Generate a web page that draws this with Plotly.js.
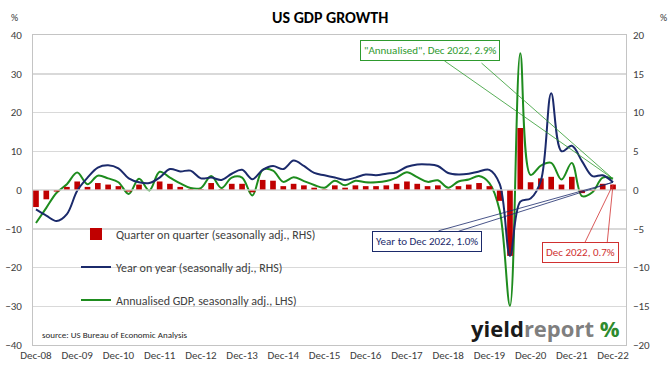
<!DOCTYPE html>
<html>
<head>
<meta charset="utf-8">
<script src="https://cdn.plot.ly/plotly-3.0.1.min.js"></script>
<style>html,body{margin:0;padding:0;background:#fff;}#chart{width:671px;height:368px;}</style>
</head>
<body>
<div id="chart"></div>
<script>
// Quarter labels (quarter ending)
const quarters = [
 'Dec-08','Mar-09','Jun-09','Sep-09','Dec-09','Mar-10','Jun-10','Sep-10','Dec-10',
 'Mar-11','Jun-11','Sep-11','Dec-11','Mar-12','Jun-12','Sep-12','Dec-12',
 'Mar-13','Jun-13','Sep-13','Dec-13','Mar-14','Jun-14','Sep-14','Dec-14',
 'Mar-15','Jun-15','Sep-15','Dec-15','Mar-16','Jun-16','Sep-16','Dec-16',
 'Mar-17','Jun-17','Sep-17','Dec-17','Mar-18','Jun-18','Sep-18','Dec-18',
 'Mar-19','Jun-19','Sep-19','Dec-19','Mar-20','Jun-20','Sep-20','Dec-20',
 'Mar-21','Jun-21','Sep-21','Dec-21','Mar-22','Jun-22','Sep-22','Dec-22'];

const tickLabels = ['Dec-08','Dec-09','Dec-10','Dec-11','Dec-12','Dec-13','Dec-14',
 'Dec-15','Dec-16','Dec-17','Dec-18','Dec-19','Dec-20','Dec-21','Dec-22'];

// Quarter on quarter, seasonally adjusted (RHS, %)
const qoq = [
 -2.2,-1.2,-0.2,0.4,1.1,0.4,0.9,0.7,0.5,
 -0.2,0.7,0.0,1.1,0.8,0.4,0.1,0.1,
 0.9,0.1,0.8,0.8,-0.3,1.3,1.2,0.5,
 0.8,0.6,0.3,0.1,0.6,0.3,0.6,0.5,
 0.5,0.6,0.8,1.1,0.8,0.5,0.6,0.1,
 0.5,0.7,0.9,0.5,-1.4,-8.5,8.0,1.0,
 1.5,1.7,0.7,1.7,-0.4,-0.1,0.8,0.7];

// Year on year, seasonally adjusted (RHS, %)
const yoy = [
 -2.5,-3.3,-4.0,-3.1,-0.1,1.6,2.9,3.2,2.8,
 1.5,1.0,0.9,1.6,2.7,2.4,2.5,1.5,
 1.6,1.3,2.1,2.6,1.4,2.6,3.1,2.7,
 3.8,3.1,2.2,1.9,1.6,1.3,1.6,2.0,
 1.9,2.1,2.3,3.0,3.3,3.3,3.1,2.2,
 2.0,2.1,2.4,2.6,0.8,-8.5,-1.5,-1.1,
 1.2,12.5,5.0,5.7,3.7,1.8,1.9,1.0];

// Annualised GDP growth, seasonally adjusted (LHS, %)
const annualised = [
 -8.5,-4.6,-0.7,1.5,4.5,1.5,3.7,3.0,2.0,
 -1.0,2.9,-0.1,4.7,3.2,1.7,0.5,0.5,
 3.6,0.5,3.2,3.2,-1.4,5.2,5.0,2.1,
 3.3,2.3,1.3,0.6,2.4,1.2,2.4,2.0,
 2.0,2.3,3.2,4.6,3.3,2.1,2.5,0.6,
 2.2,2.7,3.6,1.8,-5.3,-29.9,35.3,3.9,
 6.3,7.0,2.7,7.0,-1.6,-0.6,3.2,2.9];

const FONT = "Carlito, Calibri, Lato, 'Liberation Sans', sans-serif";
const RED = '#c00000', NAVY = '#1b2a6b', GREEN = '#1e8c1e';
const lastQ = quarters[quarters.length - 1];
const lastAnn = annualised[annualised.length - 1];
const lastYoy = yoy[yoy.length - 1];
const lastQoq = qoq[qoq.length - 1];

const traces = [
  {type:'bar', x:quarters, y:qoq, yaxis:'y2', name:'Quarter on quarter (seasonally adj., RHS)',
   marker:{color:RED}, width:0.55, legendgroup:'a'},
  {type:'scatter', mode:'lines', x:quarters, y:yoy, yaxis:'y2', name:'Year on year (seasonally adj., RHS)',
   line:{color:NAVY, width:2, shape:'spline', smoothing:1}, legendgroup:'b'},
  {type:'scatter', mode:'lines', x:quarters, y:annualised, yaxis:'y', name:'Annualised GDP, seasonally adj., LHS)',
   line:{color:GREEN, width:2, shape:'spline', smoothing:1}, legendgroup:'c'}
];

function callout(text, y, yref, color, ax, ay, ax2, ay2) {
  return [
    {x:lastQ, y:y, xref:'x', yref:yref, text:text, showarrow:true, arrowhead:0, arrowwidth:0.8,
     arrowcolor:color, ax:ax, ay:ay, font:{family:FONT, size:11, color:color},
     bgcolor:'#ffffff', bordercolor:color, borderwidth:1, borderpad:3},
    {x:lastQ, y:y, xref:'x', yref:yref, text:'', showarrow:true, arrowhead:0, arrowwidth:0.8,
     arrowcolor:color, ax:ax2, ay:ay2}
  ];
}

const annotations = [
  ...callout('"Annualised", Dec 2022, ' + lastAnn.toFixed(1) + '%', lastAnn, 'y', '#2e9a2e', -183, -128, -133, -117),
  ...callout('Year to Dec 2022, ' + lastYoy.toFixed(1) + '%', lastYoy, 'y2', NAVY, -186, 59, -176, 49),
  ...callout('Dec 2022, ' + lastQoq.toFixed(1) + '%', lastQoq, 'y2', '#d03030', -33, 68, -6, 60),
  {xref:'paper', yref:'paper', x:-0.032, y:1.058, xanchor:'center', yanchor:'middle', text:'%', showarrow:false,
   font:{family:FONT, size:10, color:'#404040'}},
  {xref:'paper', yref:'paper', x:1.064, y:1.058, xanchor:'center', yanchor:'middle', text:'%', showarrow:false,
   font:{family:FONT, size:10, color:'#404040'}},
  {xref:'paper', yref:'paper', x:0.0118, y:0.035, xanchor:'left', yanchor:'middle',
   text:'source: US Bureau of Economic Analysis',
   showarrow:false, font:{family:FONT, size:9, color:'#262626'}},
  {xref:'paper', yref:'paper', x:0.993, y:0.055, xanchor:'right', yanchor:'middle',
   text:'<b>yield</b><b><span style="color:#7f7f7f">report</span></b> <b><span style="color:#2e8b2e">%</span></b>',
   showarrow:false, font:{family:"'Open Sans', sans-serif", size:22, color:'#1a1a1a'}}
];

const layout = {
  width:671, height:368,
  margin:{l:33, r:45, t:35, b:23},
  paper_bgcolor:'#ffffff', plot_bgcolor:'#ffffff',
  font:{family:FONT, size:11, color:'#404040'},
  title:{text:'<b>US GDP GROWTH</b>', x:0.492, xanchor:'center', y:0.952, yanchor:'middle',
         font:{family:FONT, size:16, color:'#000000'}},
  xaxis:{type:'category', range:[-0.29, 57.26], tickmode:'array', tickvals:tickLabels, ticktext:tickLabels,
         showgrid:false, showline:true, mirror:true, linecolor:'#c4c4c4', linewidth:1, ticks:'',
         tickfont:{family:FONT, size:11, color:'#404040'}},
  yaxis:{range:[-40, 40], dtick:10, showgrid:true, gridcolor:'#d9d9d9', gridwidth:1.5, zeroline:false,
         showline:true, mirror:true, linecolor:'#c4c4c4', linewidth:1, ticks:'', ticklabelstandoff:8,
         tickfont:{family:FONT, size:11, color:'#404040'}},
  yaxis2:{range:[-20, 20], dtick:5, overlaying:'y', side:'right', showgrid:false, zeroline:false,
          ticks:'', ticklabelstandoff:6, tickfont:{family:FONT, size:11, color:'#404040'}},
  showlegend:true,
  legend:{x:0.0725, y:0.405, xanchor:'left', yanchor:'top', traceorder:'grouped', tracegroupgap:14,
          bgcolor:'rgba(0,0,0,0)', font:{family:FONT, size:12, color:'#404040'}},
  bargap:0.45,
  shapes:[{type:'line', xref:'paper', x0:0, x1:1, yref:'y', y0:0, y1:0, layer:'above',
           line:{color:'rgba(225,225,225,0.6)', width:2}}],
  annotations:annotations
};

Plotly.newPlot('chart', traces, layout, {displayModeBar:false, staticPlot:true});
</script>
</body>
</html>
